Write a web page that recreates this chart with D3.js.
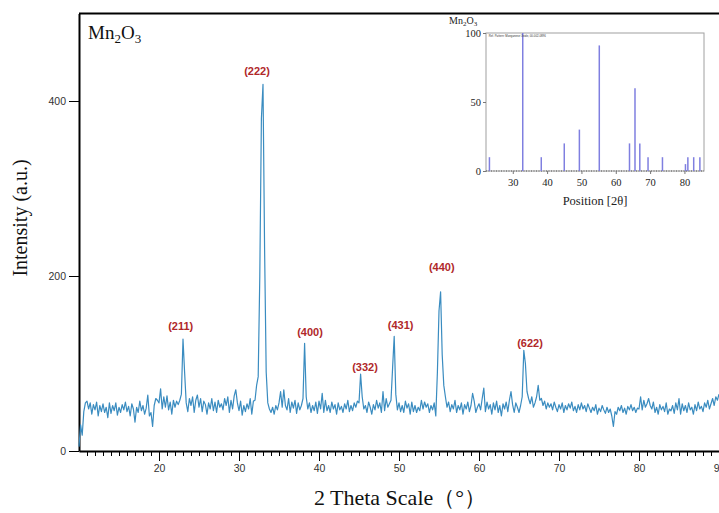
<!DOCTYPE html>
<html>
<head>
<meta charset="utf-8">
<script src="https://cdn.jsdelivr.net/npm/d3@7"></script>
<style>
  html, body { margin: 0; padding: 0; background: #fff; }
  svg { display: block; }
</style>
</head>
<body>
<div id="chart"></div>
<script>
(function () {
  "use strict";

  // ── Data ───────────────────────────────────────────────
  // measured pattern, one row per degree (x.0 x.2 x.4 x.6 x.8)
  const thetaStart = 10;
  const thetaStep = 0.2;
  const intensity = [
    5, 30, 18, 45, 55,
    57, 48, 55, 42, 53,
    47, 56, 40, 52, 45,
    54, 44, 50, 38, 55,
    43, 52, 46, 55, 41,
    50, 44, 53, 47, 56,
    45, 51, 40, 54, 48,
    33, 50, 44, 57, 46,
    52, 42, 49, 64, 40,
    44, 28, 52, 60, 58,
    55, 71, 48, 62, 50,
    63, 47, 56, 42, 58,
    50, 57, 53, 58, 65,
    128, 90, 55, 45, 60,
    52, 62, 44, 58, 64,
    50, 60, 45, 57, 53,
    42, 55, 48, 60, 46,
    56, 44, 58, 50, 54,
    47, 60, 52, 62, 44,
    58, 48, 63, 70, 55,
    46, 57, 41, 52, 45,
    54, 48, 60, 42, 57,
    58, 75, 85, 200, 380,
    419, 230, 90, 55, 48,
    44, 50, 42, 52, 47,
    55, 68, 50, 70, 52,
    47, 60, 44, 56, 49,
    58, 43, 55, 47, 52,
    60, 123, 62, 48, 55,
    44, 52, 46, 56, 43,
    57, 48, 66, 44, 58,
    46, 52, 44, 56, 48,
    53, 42, 55, 47, 51,
    44, 54, 48, 58, 45,
    52, 46, 55, 50, 57,
    55, 88, 62, 48, 52,
    44, 56, 50, 42, 53,
    47, 58, 49, 55, 44,
    68, 46, 60, 50, 54,
    58, 95, 131, 65, 47,
    55, 45, 52, 44, 57,
    49, 54, 42, 56, 45,
    52, 44, 50, 46, 58,
    48, 56, 50, 54, 44,
    52, 47, 55, 40, 90,
    160, 182, 110, 75, 62,
    50, 56, 45, 53, 48,
    58, 44, 52, 47, 55,
    42, 53, 48, 56, 45,
    52, 66, 57, 44, 50,
    54, 47, 60, 72, 45,
    56, 48, 53, 42, 55,
    47, 57, 44, 52, 40,
    54, 48, 56, 45, 58,
    68, 53, 44, 55, 50,
    44, 52, 62, 115, 100,
    68, 60, 54, 62, 50,
    55, 62, 75, 58, 60,
    52, 57, 48, 55, 50,
    54, 47, 56, 50, 45,
    53, 48, 55, 44, 52,
    47, 54, 49, 56, 46,
    51, 44, 53, 47, 55,
    48, 52, 45, 54, 49,
    44, 50, 46, 53, 42,
    49, 45, 52, 47, 43,
    50, 44, 48, 40, 28,
    45, 42, 50, 46, 52,
    44, 49, 42, 51, 47,
    53, 46, 50, 44, 49,
    48, 62, 47, 58, 50,
    54, 60, 52, 48, 56,
    44, 50, 42, 53, 47,
    51, 45, 55, 42, 48,
    46, 52, 43, 55, 47,
    60, 42, 54, 46, 52,
    44, 55, 47, 50, 42,
    53, 46, 56, 48, 51,
    45, 55, 50, 58, 48,
    54, 60, 52, 62, 58,
    65
  ];

  const xTicks = [20, 30, 40, 50, 60, 70, 80, 90];
  const yTicks = [0, 200, 400];

  // hkl labels: text, 2θ of label centre, intensity at label baseline
  const peakLabels = ["(211)", "(222)", "(400)", "(332)", "(431)", "(440)", "(622)"];
  const labelTheta = [22.71, 32.25, 38.88, 45.75, 50.21, 55.34, 66.38];
  const labelIntensity = [138, 430, 131, 91, 139, 206, 119];

  // reference pattern (inset)
  const refTheta = [23.2, 32.9, 38.3, 45.0, 49.4, 55.2, 64.0, 65.6, 67.0, 69.4, 73.6, 80.3, 81.0, 82.7, 84.5];
  const refIntensity = [10, 100, 10, 20, 30, 91, 20, 60, 20, 10, 10, 5, 10, 10, 10];
  const insetXTicks = [30, 40, 50, 60, 70, 80];
  const insetYTicks = [0, 50, 100];

  // ── Layout ─────────────────────────────────────────────
  const width = 719;
  const height = 513;
  const SERIF = "'Liberation Serif', 'Times New Roman', serif";
  const SANS = "'Liberation Sans', Arial, sans-serif";
  const LINE_COLOR = "#3a8cc0";
  const LABEL_COLOR = "#b0282a";
  const REF_COLOR = "#7f7fe0";

  const svg = d3.select("#chart").append("svg").attr("width", width).attr("height", height);

  const x = d3.scaleLinear().domain([10, 90]).range([79, 719]);
  const y = d3.scaleLinear().domain([0, 500]).range([451, 13.5]);

  const points = intensity.map((v, i) => [thetaStart + i * thetaStep, v]);

  // ── Main axes ──────────────────────────────────────────
  const gX = svg.append("g").attr("transform", `translate(0,${y(0)})`)
    .call(d3.axisBottom(x).tickValues(xTicks).tickSize(10).tickSizeOuter(0).tickPadding(4));
  const minor = d3.range(11, 90).filter((d) => d % 10 !== 0);
  svg.append("g").attr("transform", `translate(0,${y(0)})`)
    .call(d3.axisBottom(x).tickValues(minor).tickSize(5).tickFormat(""))
    .call((g) => g.select(".domain").remove());

  const gY = svg.append("g").attr("transform", `translate(${x(10)},0)`)
    .call(d3.axisLeft(y).tickValues(yTicks).tickSize(10).tickSizeOuter(0).tickPadding(3));

  [gX, gY].forEach((g) => {
    g.select(".domain").attr("stroke", "#000").attr("stroke-width", 2);
    g.selectAll(".tick text").attr("font-family", SANS).attr("font-size", "10.5px").attr("fill", "#333");
  });
  svg.selectAll(".tick line").attr("stroke", "#000");

  // top frame line
  svg.append("line")
    .attr("x1", x(10)).attr("x2", x(90))
    .attr("y1", y(500)).attr("y2", y(500))
    .attr("stroke", "#000").attr("stroke-width", 2);

  // ── Pattern ────────────────────────────────────────────
  const line = d3.line().x((d) => x(d[0])).y((d) => y(d[1]));
  svg.append("path")
    .attr("d", line(points))
    .attr("fill", "none")
    .attr("stroke", LINE_COLOR)
    .attr("stroke-width", 1.2)
    .attr("stroke-linejoin", "round");

  svg.append("g").selectAll("text")
    .data(peakLabels)
    .join("text")
    .attr("x", (d, i) => x(labelTheta[i]))
    .attr("y", (d, i) => y(labelIntensity[i]))
    .attr("text-anchor", "middle")
    .attr("font-family", SANS)
    .attr("font-weight", "bold")
    .attr("font-size", "11px")
    .attr("fill", LABEL_COLOR)
    .text((d) => d);

  // ── Titles ─────────────────────────────────────────────
  const title = svg.append("text").attr("x", 88).attr("y", 39)
    .attr("font-family", SERIF).attr("font-size", "19px").attr("fill", "#111");
  title.append("tspan").text("Mn");
  title.append("tspan").attr("font-size", "13px").attr("dy", 4).text("2");
  title.append("tspan").attr("dy", -4).text("O");
  title.append("tspan").attr("font-size", "13px").attr("dy", 4).text("3");

  svg.append("text")
    .attr("transform", "translate(27,218) rotate(-90)")
    .attr("text-anchor", "middle")
    .attr("font-family", SERIF).attr("font-size", "20px").attr("fill", "#111")
    .text("Intensity (a.u.)");

  svg.append("text")
    .attr("x", 400).attr("y", 505)
    .attr("text-anchor", "middle")
    .attr("font-family", SERIF).attr("font-size", "22px").attr("fill", "#111")
    .text("2 Theta Scale（°）");

  // ── Inset: reference pattern ───────────────────────────
  const ix = d3.scaleLinear().domain([22.2, 85.7]).range([486, 704]);
  const iy = d3.scaleLinear().domain([0, 100]).range([171, 33]);

  svg.append("rect")
    .attr("x", ix(22.2)).attr("y", iy(100))
    .attr("width", ix(85.7) - ix(22.2)).attr("height", iy(0) - iy(100))
    .attr("fill", "none").attr("stroke", "#a0a0a0").attr("stroke-width", 1);

  svg.append("line")
    .attr("x1", ix(22.2)).attr("x2", ix(85.7))
    .attr("y1", iy(0)).attr("y2", iy(0))
    .attr("stroke", "#555").attr("stroke-width", 1).attr("stroke-dasharray", "1,1.5");

  svg.append("g").selectAll("line")
    .data(refTheta)
    .join("line")
    .attr("x1", (d) => ix(d)).attr("x2", (d) => ix(d))
    .attr("y1", iy(0)).attr("y2", (d, i) => iy(refIntensity[i]))
    .attr("stroke", REF_COLOR).attr("stroke-width", 1.5);

  const gIX = svg.append("g").attr("transform", `translate(0,${iy(0)})`)
    .call(d3.axisBottom(ix).tickValues(insetXTicks).tickSize(3).tickSizeOuter(0).tickPadding(5));
  const gIY = svg.append("g").attr("transform", `translate(${ix(22.2)},0)`)
    .call(d3.axisLeft(iy).tickValues(insetYTicks).tickSize(3).tickSizeOuter(0).tickPadding(2));
  [gIX, gIY].forEach((g) => {
    g.select(".domain").remove();
    g.selectAll(".tick line").attr("stroke", "#777");
    g.selectAll(".tick text").attr("font-family", SERIF).attr("font-size", "10.5px").attr("fill", "#222");
  });

  const ititle = svg.append("text").attr("x", 449).attr("y", 24)
    .attr("font-family", SERIF).attr("font-size", "10px").attr("fill", "#222");
  ititle.append("tspan").text("Mn");
  ititle.append("tspan").attr("font-size", "7px").attr("dy", 2).text("2");
  ititle.append("tspan").attr("dy", -2).text("O");
  ititle.append("tspan").attr("font-size", "7px").attr("dy", 2).text("3");

  svg.append("text")
    .attr("x", ix(23)).attr("y", iy(100) + 4)
    .attr("font-family", SANS).attr("font-size", "3.5px").attr("fill", "#333")
    .attr("textLength", 57).attr("lengthAdjust", "spacingAndGlyphs")
    .text("Ref. Pattern: Manganese Oxide, 00-002-0896");

  svg.append("text")
    .attr("x", (ix(22.2) + ix(85.7)) / 2).attr("y", 205)
    .attr("text-anchor", "middle")
    .attr("font-family", SERIF).attr("font-size", "12.5px").attr("fill", "#222")
    .text("Position [2θ]");
})();
</script>
</body>
</html>
